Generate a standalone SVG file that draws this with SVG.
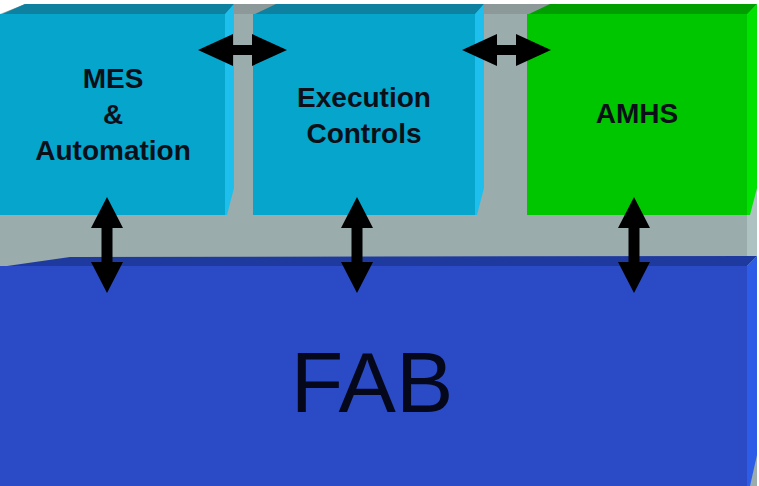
<svg xmlns="http://www.w3.org/2000/svg" width="759" height="486" viewBox="0 0 759 486">
<defs>
<style>
.lbl{font-family:"Liberation Sans",Arial,sans-serif;font-weight:bold;font-size:28px;fill:#0a0f18;text-anchor:middle}
.fab{font-family:"Liberation Sans",Arial,sans-serif;font-size:86px;fill:#05081a;text-anchor:middle}
.tf{fill:#0e80a0}.ff{fill:#06a5cc}.sf{fill:#1ebfec}
.gt{fill:#009e00}.gf{fill:#00c600}.gs{fill:#00e200}
.arrow{fill:#000}
</style>
<path id="harr" d="M-44.5,0 L-9.5,-16 L-9.5,-5 L9.5,-5 L9.5,-16 L44.5,0 L9.5,16 L9.5,5 L-9.5,5 L-9.5,16 Z"/>
<path id="varr" d="M0,-48 L16,-17 L5.5,-17 L5.5,17 L16,17 L0,48 L-16,17 L-5.5,17 L-5.5,-17 L-16,-17 Z"/>
</defs>
<rect width="759" height="486" fill="#ffffff"/>
<g id="platform">
<polygon points="0,14 25,4 757,4 757,486 0,486" fill="#9aacac"/>
<rect x="225" y="4" width="532" height="10" fill="#8d9999"/>
<polygon points="747,14 757,4 757,256 747,266" fill="#aec2c2"/>
</g>
<g id="fab">
<polygon points="0,267 70,257 757,256 747,266" fill="#1f3a9e"/>
<rect x="0" y="266" width="747" height="220" fill="#2a4ac6"/>
<polygon points="747,266 757,256 757,455 750,486 747,486" fill="#2d5de6"/>
<text class="fab" x="372" y="412">FAB</text>
</g>
<g id="mes">
<polygon class="tf" points="0,15 25,4 234,4 225,15"/>
<rect class="ff" x="0" y="14" width="225" height="201"/>
<polygon class="sf" points="225,14 234,4 234,188 227,215 225,215"/>
<text class="lbl" x="113" y="88">MES</text>
<text class="lbl" x="113" y="124">&amp;</text>
<text class="lbl" x="113" y="160">Automation</text>
</g>
<g id="execution">
<polygon class="tf" points="253,15 276,4 484,4 475,15"/>
<rect class="ff" x="253" y="14" width="222" height="201"/>
<polygon class="sf" points="475,14 484,4 484,188 477,215 475,215"/>
<text class="lbl" x="364" y="107">Execution</text>
<text class="lbl" x="364" y="143">Controls</text>
</g>
<g id="amhs">
<polygon class="gt" points="527,15 550,4 757,4 747,15"/>
<rect class="gf" x="527" y="14" width="220" height="201"/>
<polygon class="gs" points="747,14 757,4 757,188 750,215 747,215"/>
<text class="lbl" x="637" y="123">AMHS</text>
</g>
<g id="connectors" class="arrow">
<use href="#harr" x="242.5" y="50"/>
<use href="#harr" x="506.5" y="50"/>
<use href="#varr" x="107" y="245"/>
<use href="#varr" x="357" y="245"/>
<use href="#varr" x="634" y="245"/>
</g>
</svg>
